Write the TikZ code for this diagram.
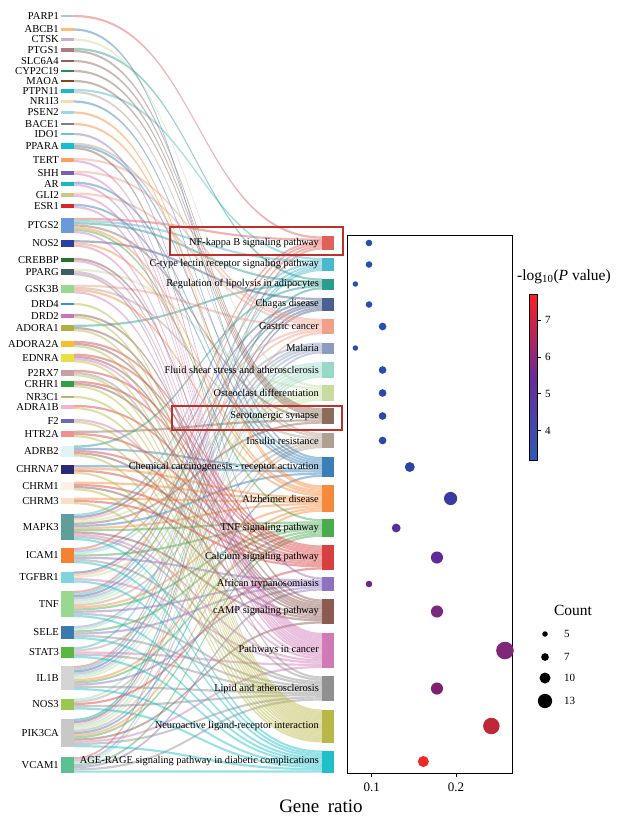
\documentclass[tikz,border=0pt]{standalone}
\usepackage{fontspec}
\setmainfont{Liberation Serif}
\pgfdeclarelayer{bg}
\pgfsetlayers{bg,main}
\def\ru{2.2}
\definecolor{HLred}{HTML}{C0302A}
\definecolor{cbA}{HTML}{2C5CB8}
\definecolor{cbB}{HTML}{6A2A9A}
\definecolor{cbC}{HTML}{FF2020}
\tikzset{
 genebar/.style={rectangle, draw=none, minimum width=13pt, inner sep=0pt, outer sep=0pt},
 genelabel/.style={anchor=east, inner sep=0pt, font=\fontsize{10.6}{12}\selectfont},
 pwbar/.style={rectangle, draw=none, minimum width=12pt, inner sep=0pt, outer sep=0pt},
 pwlabel/.style={anchor=east, inner sep=0pt, font=\fontsize{10.4}{12}\selectfont},
 bubble/.style={circle, draw=none, inner sep=0pt, outer sep=0pt},
 ribbon/.style={fill opacity=0.47},
 hl/.style={draw=HLred, line width=1.4pt},
 ticklab/.style={inner sep=0pt, font=\fontsize{13}{15}\selectfont},
 leglab/.style={anchor=west, inner sep=0pt, font=\fontsize{11}{13}\selectfont},
}
\newcommand\gn[4]{%
  \definecolor{gc-#1}{HTML}{#4}%
  \expandafter\xdef\csname gk#1\endcsname{0}%
  \node[genebar, fill=gc-#1, minimum height=#3*\ru pt] (g-#1) at (67.5,#2) {};
  \node[genelabel] (gl-#1) at ([xshift=-2pt]g-#1.west) {#1};
}
\newcommand\pw[7]{%
  \definecolor{pc-#1}{HTML}{#4}%
  \definecolor{bc-#1}{HTML}{#6}%
  \node[pwbar, fill=pc-#1, minimum height=#3*\ru pt] (p-#1) at (328,#2) {};
  \node[pwlabel] (pl-#1) at (319,#2) {#5};
  \pgfmathsetmacro\bx{287.4+13.597*#3}%
  \pgfmathsetmacro\bd{1.1*#3}%
  \node[bubble, fill=bc-#1, minimum size=\bd pt] (b-#1) at (\bx,#2) {};
  \begin{pgfonlayer}{bg}
  \foreach \gname [count=\jj from 0] in {#7} {
    \pgfmathsetmacro\pA{\jj*\ru}%
    \pgfmathsetmacro\pB{(\jj+1)*\ru}%
    \edef\kk{\csname gk\gname\endcsname}%
    \pgfmathsetmacro\gA{\kk*\ru}%
    \pgfmathsetmacro\gB{(\kk+1)*\ru}%
    \fill[ribbon, pc-#1] ([yshift=-\gA pt]g-\gname.north east) .. controls +(125pt,0) and +(-125pt,0) .. ([yshift=-\pA pt]p-#1.north west) -- ([yshift=-\pB pt]p-#1.north west) .. controls +(-125pt,0) and +(125pt,0) .. ([yshift=-\gB pt]g-\gname.north east) -- cycle;
    \expandafter\xdef\csname gk\gname\endcsname{\the\numexpr\kk+1\relax}%
  }
  \end{pgfonlayer}
}
\begin{document}
\begin{tikzpicture}[x=1pt,y=-1pt]
\useasboundingbox (0,0) rectangle (619,820);
% genes
\gn{PARP1}{16}{1}{AEC7E8}
\gn{ABCB1}{29.5}{1}{FFBB78}
\gn{CTSK}{39.5}{1}{C5B0D5}
\gn{PTGS1}{50}{2}{B07A85}
\gn{SLC6A4}{61}{1}{9A5A55}
\gn{CYP2C19}{71}{1}{2E8B57}
\gn{MAOA}{81}{1}{8B4513}
\gn{PTPN11}{91}{2}{20B8C8}
\gn{NR1I3}{101.5}{1}{FFD8A8}
\gn{PSEN2}{112.5}{1}{9EDAE5}
\gn{BACE1}{124}{1}{808080}
\gn{IDO1}{134}{1}{6BBFE0}
\gn{PPARA}{146}{3}{17BECF}
\gn{TERT}{160}{2}{FFA060}
\gn{SHH}{172.7}{2}{7B5CB8}
\gn{AR}{183.7}{2}{17B8C0}
\gn{GLI2}{194.7}{2}{C8C880}
\gn{ESR1}{206}{2}{D62728}
\gn{PTGS2}{225.5}{7}{6A9AD8}
\gn{NOS2}{243.5}{3}{2A40A8}
\gn{CREBBP}{260}{2}{2A702A}
\gn{PPARG}{272}{3}{3A6060}
\gn{GSK3B}{289}{4}{98D890}
\gn{DRD4}{304}{1}{3A90E0}
\gn{DRD2}{316}{2}{D070C0}
\gn{ADORA1}{328}{3}{B0B040}
\gn{ADORA2A}{344}{3}{F5C030}
\gn{EDNRA}{358}{4}{E8E040}
\gn{P2RX7}{373}{3}{C8A0A0}
\gn{CRHR1}{384}{3}{30A040}
\gn{NR3C1}{397}{1}{C0B070}
\gn{ADRA1B}{407}{2}{F8B0D0}
\gn{F2}{421}{2}{6A6AB8}
\gn{HTR2A}{434}{3}{F09090}
\gn{ADRB2}{451}{5}{E0F4F8}
\gn{CHRNA7}{469.5}{4}{2A2A78}
\gn{CHRM1}{486}{4}{FDF0E4}
\gn{CHRM3}{501}{3}{FAE0C8}
\gn{MAPK3}{527}{12}{5F9E9A}
\gn{ICAM1}{555.5}{7}{F58231}
\gn{TGFBR1}{577}{5}{80D4E0}
\gn{TNF}{604}{12}{98D890}
\gn{SELE}{632.5}{6}{3A7AB0}
\gn{STAT3}{652.5}{5}{5AB840}
\gn{IL1B}{678}{11}{D4D4D4}
\gn{NOS3}{704}{5}{98C850}
\gn{PIK3CA}{733}{13}{C8C8C8}
\gn{VCAM1}{765}{7}{5CC090}
% bubble plot frame
\draw[line width=0.8pt] (347,235) rectangle (512,773);
\draw[line width=0.8pt] (371.7,773) -- (371.7,777);
\draw[line width=0.8pt] (456,773) -- (456,777);
\node[ticklab] (t1) at (371.7,787) {0.1};
\node[ticklab] (t2) at (456,787) {0.2};
\node[inner sep=0pt, font=\fontsize{19}{22}\selectfont] (xl) at (321,806) {Gene\hspace{0.45em}ratio};
% pathways
\pw{1}{243}{6}{E0605A}{NF-kappa B signaling pathway}{2850B0}{PARP1,PTGS2,ICAM1,TNF,IL1B,VCAM1}
\pw{2}{264.5}{6}{4AB8CC}{C-type lectin receptor signaling pathway}{2850B0}{PTPN11,PTGS2,MAPK3,TNF,STAT3,IL1B}
\pw{3}{284}{5}{2A9D8F}{Regulation of lipolysis in adipocytes}{2850B0}{PTGS1,PTGS2,ADORA1,ADRB2,PIK3CA}
\pw{4}{304.5}{6}{4A6090}{Chagas disease}{2850B0}{NOS2,MAPK3,TGFBR1,TNF,IL1B,PIK3CA}
\pw{5}{326.5}{7}{F0A08A}{Gastric cancer}{2A4DB0}{TERT,SHH,GLI2,GSK3B,MAPK3,TGFBR1,PIK3CA}
\pw{6}{348}{5}{8A9CC0}{Malaria}{2A4DB0}{ICAM1,TNF,SELE,IL1B,VCAM1}
\pw{7}{370}{7}{98D8C8}{Fluid shear stress and atherosclerosis}{2A4DB0}{ICAM1,TNF,SELE,IL1B,NOS3,PIK3CA,VCAM1}
\pw{8}{393}{7}{C8DCA0}{Osteoclast differentiation}{2A4AA8}{CTSK,PPARG,MAPK3,TGFBR1,TNF,IL1B,PIK3CA}
\pw{9}{416}{7}{8C6B5A}{Serotonergic synapse}{2C48A8}{PTGS1,SLC6A4,CYP2C19,MAOA,PTGS2,HTR2A,MAPK3}
\pw{10}{440.5}{7}{B0A090}{Insulin resistance}{2C48A8}{PTPN11,PPARA,GSK3B,TNF,STAT3,NOS3,PIK3CA}
\pw{11}{467}{9}{3A80B8}{Chemical carcinogenesis - receptor activation}{2C44A8}{ABCB1,NR1I3,PPARA,AR,ESR1,ADRB2,CHRNA7,MAPK3,PIK3CA}
\pw{12}{498.5}{12}{F58A3A}{Alzheimer disease}{3A3AA0}{PSEN2,BACE1,PTGS2,NOS2,GSK3B,CHRNA7,CHRM1,CHRM3,MAPK3,TNF,IL1B,PIK3CA}
\pw{13}{528}{8}{4AAA50}{TNF signaling pathway}{5A2CA0}{PTGS2,MAPK3,ICAM1,TNF,SELE,IL1B,PIK3CA,VCAM1}
\pw{14}{557.5}{11}{D84040}{Calcium signaling pathway}{602898}{ADORA2A,EDNRA,P2RX7,CRHR1,ADRA1B,HTR2A,ADRB2,CHRNA7,CHRM1,CHRM3,NOS3}
\pw{15}{584}{6}{9070C0}{African trypanosomiasis}{6A2890}{IDO1,ICAM1,TNF,SELE,IL1B,VCAM1}
\pw{16}{611.5}{11}{8C5A50}{cAMP signaling pathway}{7A2880}{PPARA,CREBBP,DRD2,ADORA1,ADORA2A,EDNRA,CRHR1,ADRB2,CHRM1,MAPK3,PIK3CA}
\pw{17}{650.5}{16}{D07AB8}{Pathways in cancer}{802878}{TERT,SHH,AR,GLI2,ESR1,PTGS2,NOS2,CREBBP,PPARG,GSK3B,EDNRA,F2,MAPK3,TGFBR1,STAT3,PIK3CA}
\pw{18}{688.5}{11}{909090}{Lipid and atherosclerosis}{802070}{PPARG,P2RX7,MAPK3,ICAM1,TNF,SELE,STAT3,IL1B,NOS3,PIK3CA,VCAM1}
\pw{19}{726}{15}{B8B848}{Neuroactive ligand-receptor interaction}{C02838}{DRD4,DRD2,ADORA1,ADORA2A,EDNRA,P2RX7,CRHR1,NR3C1,ADRA1B,F2,HTR2A,ADRB2,CHRNA7,CHRM1,CHRM3}
\pw{20}{761.5}{10}{20C0C8}{AGE-RAGE signaling pathway in diabetic complications}{F02828}{MAPK3,ICAM1,TGFBR1,TNF,SELE,STAT3,IL1B,NOS3,PIK3CA,VCAM1}
% highlight boxes
\draw[hl] (170,227) rectangle (343,255);
\draw[hl] (172,406) rectangle (342,430);
% colour bar
\node[anchor=west, inner sep=0pt, font=\fontsize{15.5}{18}\selectfont] (cbt) at (517,277) {-log\textsubscript{10}(\textit{P} value)};
\shade[bottom color=cbA, top color=cbC, middle color=cbB] (529.5,294) rectangle (537.5,460);
\draw[line width=0.6pt] (529.5,294) rectangle (537.5,460);
\foreach \v/\yy in {7/320,6/357,5/393.5,4/430.5} {
  \draw[line width=0.6pt] (537.5,\yy) -- (541,\yy);
  \node[leglab] (cb\v) at (545,\yy) {\v};
}
% count legend
\node[inner sep=0pt, font=\fontsize{15.5}{18}\selectfont] (cnt) at (573,610) {Count};
\foreach \c/\yy in {5/634,7/657,10/678,13/701} {
  \pgfmathsetmacro\dd{1.1*\c}
  \node[bubble, fill=black, minimum size=\dd pt] (cd\c) at (545,\yy) {};
  \node[leglab] (cl\c) at (564,\yy) {\c};
}
\end{tikzpicture}
\end{document}
